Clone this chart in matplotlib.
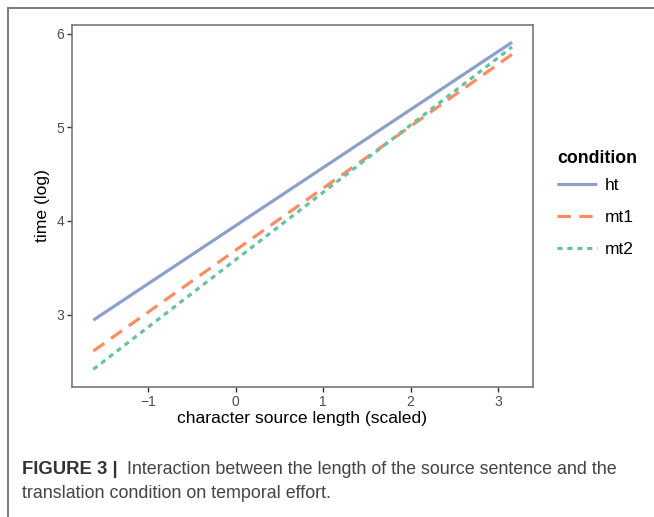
import matplotlib
matplotlib.use("Agg")
import matplotlib.pyplot as plt
from matplotlib.lines import Line2D

plt.rcParams['font.family'] = ['Liberation Sans', 'DejaVu Sans']

# fitted lines: value at the min and max of scaled source length
x_range = [-1.63, 3.16]
conditions = ["ht", "mt1", "mt2"]
y_start = [2.94, 2.61, 2.414]
y_end = [5.91, 5.78, 5.86]
colors = ["#8DA0CB", "#FC8D62", "#66C2A5"]
dashes = [None, (4.2, 2.6), (1.6, 1.5)]

x_ticks = [-1, 0, 1, 2, 3]
y_ticks = [3, 4, 5, 6]

W, H = 654, 517
fig = plt.figure(figsize=(W / 100, H / 100), dpi=100)

# outer frame of the figure panel (top and left edges visible)
fig.add_artist(Line2D([7.5 / W, 1], [1 - 7.5 / H, 1 - 7.5 / H], color="#7a7a7a", lw=1.4))
fig.add_artist(Line2D([7.5 / W, 7.5 / W], [0, 1 - 7.5 / H], color="#7a7a7a", lw=1.4))

ax = fig.add_axes([72 / W, 1 - 387 / H, (533 - 72) / W, (387 - 24.5) / H])

for name, y0, y1, c, d in zip(conditions, y_start, y_end, colors, dashes):
    ln, = ax.plot(x_range, [y0, y1], color=c, lw=2.3, label=name, solid_capstyle="butt")
    if d is not None:
        ln.set_dashes(d)

ax.set_xlim(-1.874, 3.40)
ax.set_ylim(2.225, 6.10)
ax.set_xticks(x_ticks)
ax.set_xticklabels(["\u22121", "0", "1", "2", "3"])
ax.set_yticks(y_ticks)
for sp in ax.spines.values():
    sp.set_color("#6e6e6e")
    sp.set_linewidth(1.1)
ax.tick_params(colors="#333333", labelcolor="#4d4d4d", labelsize=10, length=3.5, width=1, pad=2)
ax.set_xlabel("character source length (scaled)", fontsize=12.6, labelpad=2)
ax.set_ylabel("time (log)", fontsize=12.6, labelpad=5)

leg = ax.legend(loc="upper left", bbox_to_anchor=(1.052, 0.655), frameon=False,
                title="condition", fontsize=12.5, handlelength=2.3,
                labelspacing=0.97, handletextpad=0.45, borderpad=0, borderaxespad=0)
leg.get_title().set_fontweight("bold")
leg.get_title().set_fontsize(12.8)
leg._legend_box.align = "left"
leg._legend_box.sep = 8

fig.text(22 / W, 1 - 470 / H, "FIGURE 3 |", fontsize=13.3, fontweight="bold",
         color="#333333", va="center")
fig.text(127 / W, 1 - 470 / H,
         "Interaction between the length of the source sentence and the",
         fontsize=12.9, color="#444444", va="center")
fig.text(22 / W, 1 - 494 / H, "translation condition on temporal effort.",
         fontsize=12.9, color="#444444", va="center")

fig.savefig("out.png", dpi=100)
